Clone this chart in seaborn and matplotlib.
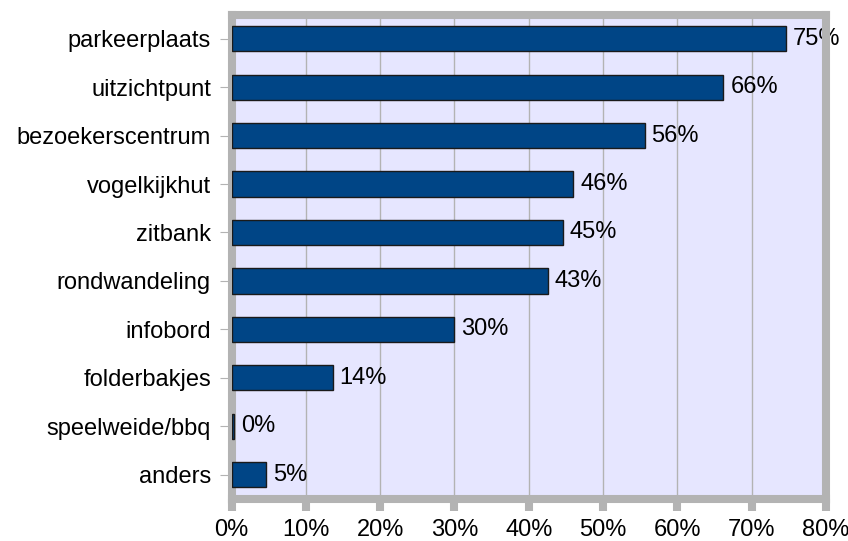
import numpy as np
import pandas as pd
import seaborn as sns
import matplotlib.pyplot as plt
from matplotlib.ticker import MultipleLocator, PercentFormatter

categories = ['parkeerplaats', 'uitzichtpunt', 'bezoekerscentrum', 'vogelkijkhut',
              'zitbank', 'rondwandeling', 'infobord', 'folderbakjes',
              'speelweide/bbq', 'anders']
values = [74.6, 66.2, 55.6, 46.0, 44.6, 42.6, 30.0, 13.6, 0.4, 4.6]
labels = ['75%', '66%', '56%', '46%', '45%', '43%', '30%', '14%', '0%', '5%']

df = pd.DataFrame({'item': categories, 'pct': values})

plt.rcParams['font.family'] = ['Liberation Sans', 'DejaVu Sans']
frame = '#b3b3b3'
fs = 17

fig = plt.figure(figsize=(8.48, 5.41), dpi=100)
ax = fig.add_axes([0.273, 0.078, 0.701, 0.895])
ax.set_facecolor('#e6e6ff')

sns.barplot(data=df, x='pct', y='item', orient='h', color='#004586',
            saturation=1, edgecolor='#1a1a1a', linewidth=1, width=0.52, ax=ax,
            zorder=4)
ax.bar_label(ax.containers[0], labels=labels, padding=5, fontsize=fs, color='black')

ax.set_xlim(0, 80)
ax.set_ylim(9.5, -0.5)
ax.xaxis.set_major_locator(MultipleLocator(10))
ax.xaxis.set_major_formatter(PercentFormatter(decimals=0))
ax.grid(axis='x', color=frame, linewidth=1, zorder=0)
ax.set_axisbelow(True)
ax.set_xlabel('')
ax.set_ylabel('')

# thick grey frame like the original office chart
for s in ax.spines.values():
    s.set_color(frame)
    s.set_linewidth(5.8)
    s.set_zorder(3)

ax.tick_params(axis='x', direction='out', length=8.4, width=5.8, color=frame,
               labelsize=fs, pad=6, labelcolor='black')
ax.tick_params(axis='y', length=8.3, width=0.8, color=frame, labelsize=fs,
               pad=6.5, labelcolor='black')

fig.savefig('out.png', dpi=100)
